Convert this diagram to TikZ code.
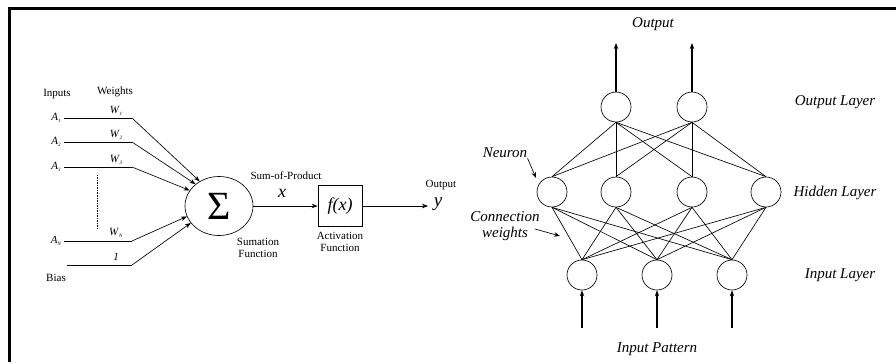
\documentclass[tikz,border=0pt]{standalone}
\usepackage{fontspec}
\setmainfont{Liberation Serif}
\usetikzlibrary{shapes.geometric, arrows.meta}

\newcommand{\insub}[2]{\textit{#1}\raisebox{-1.5pt}{\fontsize{5}{5}\selectfont\textit{#2}}}

\tikzset{
	lbl/.style={font=\fontsize{11}{12}\selectfont, inner sep=0pt},
	layerlbl/.style={font=\fontsize{15}{16}\selectfont\itshape, inner sep=0pt},
	neuron/.style={circle, draw, minimum size=30pt, inner sep=0pt},
	link/.style={line width=0.65pt},
	flow/.style={->, line width=1.1pt}
}

\begin{document}
\begin{tikzpicture}[>={Stealth[length=6pt, width=4.5pt]}, x=1pt, y=-1pt, line width=0.65pt]
	\useasboundingbox (0,0) rectangle (896,362);
	\draw[line width=2.5pt] (9.5,362) -- (9.5,8.5) -- (896,8.5);

	% single neuron
	\node[lbl] (inputs) at (57,94) {Inputs};
	\node[lbl] (weights) at (115,92) {Weights};
	\node[ellipse, draw, minimum width=68pt, minimum height=59pt, inner sep=0pt] (sum) at (219,206) {\fontsize{40}{40}\selectfont Σ};
	\node[lbl] (a1) at (56,118) {\insub{A}{1}};
	\node[lbl] (a2) at (56,142) {\insub{A}{2}};
	\node[lbl] (a3) at (56,167) {\insub{A}{3}};
	\node[lbl] (an) at (56,241) {\insub{A}{N}};
	\node[lbl] (bias) at (56,278) {Bias};
	\node[lbl] (w1) at (116,111) {\insub{W}{1}};
	\node[lbl] (w2) at (116,135) {\insub{W}{2}};
	\node[lbl] (w3) at (116,160) {\insub{W}{3}};
	\node[lbl] (wn) at (116,233) {\insub{W}{N}};
	\node[lbl] (wb) at (116,257) {\textit{1}};
	\coordinate (b0) at (67,265);
	\coordinate (k1) at (132,118);
	\coordinate (k2) at (132,142);
	\coordinate (k3) at (132,167);
	\coordinate (kn) at (132,241);
	\coordinate (kb) at (132,265);
	\draw (a1.east) ++(3,0) -- (k1);
	\draw (a2.east) ++(3,0) -- (k2);
	\draw (a3.east) ++(3,0) -- (k3);
	\draw (an.east) ++(3,0) -- (kn);
	\draw (b0) -- (kb);
	\draw[->] (k1) -- (sum.128);
	\draw[->] (k2) -- (sum.137);
	\draw[->] (k3) -- (sum.152);
	\draw[->] (kn) -- (sum.198);
	\draw[->] (kb) -- (sum.211);
	\coordinate (dots1) at (97,175);
	\coordinate (dots2) at (97,228);
	\draw[densely dotted] (dots1) -- (dots2);

	\node[lbl] (sop) at (286,176) {Sum-of-Product};
	\node[inner sep=0pt, font=\fontsize{18}{20}\selectfont\itshape] (xval) at (282,193) {x};
	\node[draw, minimum width=44pt, minimum height=41pt, inner sep=0pt, font=\fontsize{18}{20}\selectfont\itshape] (act) at (340,206) {f(x)};
	\node[lbl, align=center] (sumfn) at (258,248) {Sumation\\Function};
	\node[lbl, align=center] (actfn) at (340,242) {Activation\\Function};
	\node[lbl] (outlbl) at (441,185) {Output};
	\node[inner sep=0pt, font=\fontsize{19}{20}\selectfont\itshape] (yval) at (438,204) {y};
	\coordinate (ytip) at (428,206);
	\draw[->] (sum.east) -- (act.west);
	\draw[->] (act.east) -- (ytip);

	% network
	\node[neuron] (o1) at (616,107) {};
	\node[neuron] (o2) at (692,107) {};
	\node[neuron] (h1) at (552,192) {};
	\node[neuron] (h2) at (616,192) {};
	\node[neuron] (h3) at (692,192) {};
	\node[neuron] (h4) at (766,192) {};
	\node[neuron] (i1) at (582,275) {};
	\node[neuron] (i2) at (657,275) {};
	\node[neuron] (i3) at (732,275) {};

	\draw[link] (o1.south) -- (h1.north);
	\draw[link] (o1.south) -- (h2.north);
	\draw[link] (o1.south) -- (h3.north);
	\draw[link] (o1.south) -- (h4.north);
	\draw[link] (o2.south) -- (h1.north);
	\draw[link] (o2.south) -- (h2.north);
	\draw[link] (o2.south) -- (h3.north);
	\draw[link] (o2.south) -- (h4.north);
	\draw[link] (h1.south) -- (i1.north);
	\draw[link] (h1.south) -- (i2.north);
	\draw[link] (h1.south) -- (i3.north);
	\draw[link] (h2.south) -- (i1.north);
	\draw[link] (h2.south) -- (i2.north);
	\draw[link] (h2.south) -- (i3.north);
	\draw[link] (h3.south) -- (i1.north);
	\draw[link] (h3.south) -- (i2.north);
	\draw[link] (h3.south) -- (i3.north);
	\draw[link] (h4.south) -- (i1.north);
	\draw[link] (h4.south) -- (i2.north);
	\draw[link] (h4.south) -- (i3.north);

	\node[layerlbl] (outtop) at (653,24) {Output};
	\coordinate (ot1) at (616,43);
	\coordinate (ot2) at (692,43);
	\draw[flow] (o1.north) -- (ot1);
	\draw[flow] (o2.north) -- (ot2);

	\node[layerlbl] (pattern) at (657,349) {Input Pattern};
	\coordinate (ib1) at (582,328);
	\coordinate (ib2) at (657,328);
	\coordinate (ib3) at (732,328);
	\draw[flow] (ib1) -- (i1.south);
	\draw[flow] (ib2) -- (i2.south);
	\draw[flow] (ib3) -- (i3.south);

	\node[layerlbl] (outlayer) at (835,102) {Output Layer};
	\node[layerlbl] (hidlayer) at (835,193) {Hidden Layer};
	\node[layerlbl] (inlayer) at (840,275) {Input Layer};

	\node[layerlbl] (nrn) at (505,153) {Neuron};
	\coordinate (nrntip) at (536,178);
	\draw[->] (nrn.south east) -- (nrntip);
	\node[layerlbl, align=center] (cw) at (505,226) {Connection\\weights};
	\coordinate (cwtail) at (535,229);
	\coordinate (cwtip) at (560,236);
	\draw[->] (cwtail) -- (cwtip);
\end{tikzpicture}
\end{document}
